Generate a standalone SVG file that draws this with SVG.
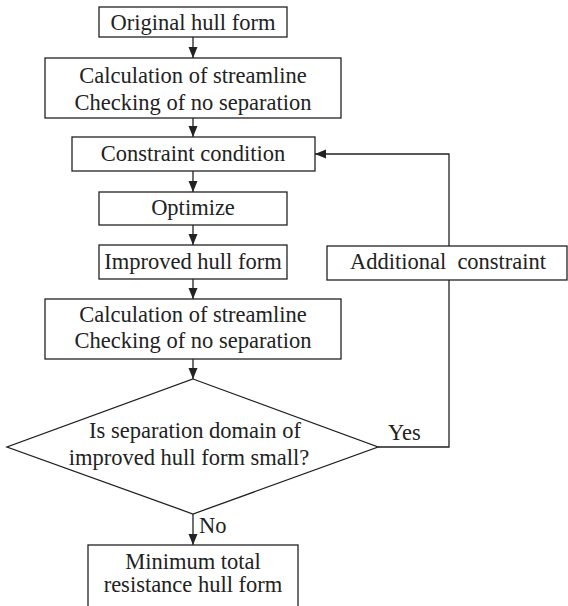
<svg xmlns="http://www.w3.org/2000/svg" width="568" height="606" viewBox="0 0 568 606">
<style>
.box{fill:#fff;stroke:#222;stroke-width:1.3}
text{font-family:'Liberation Serif','Times New Roman','DejaVu Serif',serif;font-size:22.5px;fill:#222}
.t{text-anchor:middle}
.c{fill:none;stroke:#222;stroke-width:1.3}
</style>
<defs>
<marker id="ah" markerUnits="userSpaceOnUse" markerWidth="12" markerHeight="12" viewBox="0 0 12 12" refX="11" refY="6" orient="auto">
<path d="M0,1.5 L11,6 L0,10.5 Z" fill="#222"/>
</marker>
</defs>
<rect width="568" height="606" fill="#fff"/>
<g id="connectors">
<line class="c" x1="193" y1="37" x2="193" y2="58" marker-end="url(#ah)"/>
<line class="c" x1="193" y1="118" x2="193" y2="137" marker-end="url(#ah)"/>
<line class="c" x1="193" y1="171" x2="193" y2="192" marker-end="url(#ah)"/>
<line class="c" x1="193" y1="225" x2="193" y2="245" marker-end="url(#ah)"/>
<line class="c" x1="193" y1="279" x2="193" y2="299" marker-end="url(#ah)"/>
<line class="c" x1="193" y1="359" x2="193" y2="379" marker-end="url(#ah)"/>
<line class="c" x1="193" y1="514" x2="193" y2="545" marker-end="url(#ah)"/>
<polyline class="c" points="378,447 449,447 449,154 315,154" marker-end="url(#ah)"/>
<text x="388" y="440">Yes</text>
<text x="199" y="533">No</text>
</g>
<g id="n1"><rect class="box" x="99" y="7" width="188" height="30"/><text class="t" x="193" y="30">Original hull form</text></g>
<g id="n2"><rect class="box" x="45" y="58" width="296" height="60"/><text class="t" x="193" y="83">Calculation of streamline</text><text class="t" x="193" y="110">Checking of no separation</text></g>
<g id="n3"><rect class="box" x="72" y="137" width="243" height="34"/><text class="t" x="193" y="161">Constraint condition</text></g>
<g id="n4"><rect class="box" x="99" y="192" width="188" height="33"/><text class="t" x="193" y="215">Optimize</text></g>
<g id="n5"><rect class="box" x="99" y="245" width="188" height="34"/><text class="t" x="193" y="269">Improved hull form</text></g>
<g id="n6"><rect class="box" x="45" y="299" width="296" height="60"/><text class="t" x="193" y="322">Calculation of streamline</text><text class="t" x="193" y="348">Checking of no separation</text></g>
<g id="n7"><polygon class="box" points="193,379 378,447 193,514 7,447"/><text class="t" x="195" y="438">Is separation domain of</text><text class="t" x="189" y="465">improved hull form small?</text></g>
<g id="n8"><rect class="box" x="327" y="246" width="240" height="34"/><text class="t" x="448" y="269" xml:space="preserve">Additional  constraint</text></g>
<g id="n9"><rect class="box" x="88" y="545" width="210" height="70"/><text class="t" x="193" y="569">Minimum total</text><text class="t" x="193" y="592">resistance hull form</text></g>
</svg>
